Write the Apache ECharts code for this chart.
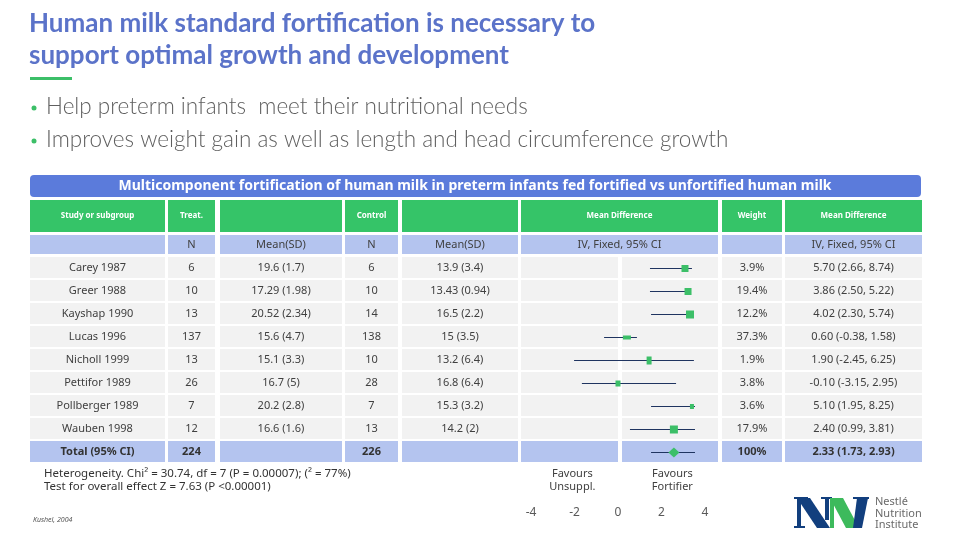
<!DOCTYPE html>
<html>
<head>
<meta charset="utf-8">
<script src="https://cdn.jsdelivr.net/npm/echarts@6/dist/echarts.min.js"></script>
<style>
html,body{margin:0;padding:0;background:#fff;}
#chart{width:960px;height:540px;}
</style>
</head>
<body>
<div id="chart"></div>
<script>
// ---------- data ----------
const titleLines = ['Human milk standard fortification is necessary to', 'support optimal growth and development'];
const bullets = ['Help preterm infants  meet their nutritional needs', 'Improves weight gain as well as length and head circumference growth'];
const tableTitle = 'Multicomponent fortification of human milk in preterm infants fed fortified vs unfortified human milk';
const headerRow = ['Study or subgroup', 'Treat.', '', 'Control', '', 'Mean Difference', 'Weight', 'Mean Difference'];
const subHeaderRow = ['', 'N', 'Mean(SD)', 'N', 'Mean(SD)', 'IV, Fixed, 95% CI', '', 'IV, Fixed, 95% CI'];
const studies = ['Carey 1987', 'Greer 1988', 'Kayshap 1990', 'Lucas 1996', 'Nicholl 1999', 'Pettifor 1989', 'Pollberger 1989', 'Wauben 1998'];
const treatN = ['6', '10', '13', '137', '13', '26', '7', '12'];
const treatMean = ['19.6 (1.7)', '17.29 (1.98)', '20.52 (2.34)', '15.6 (4.7)', '15.1 (3.3)', '16.7 (5)', '20.2 (2.8)', '16.6 (1.6)'];
const ctrlN = ['6', '10', '14', '138', '10', '28', '7', '13'];
const ctrlMean = ['13.9 (3.4)', '13.43 (0.94)', '16.5 (2.2)', '15 (3.5)', '13.2 (6.4)', '16.8 (6.4)', '15.3 (3.2)', '14.2 (2)'];
const weights = ['3.9%', '19.4%', '12.2%', '37.3%', '1.9%', '3.8%', '3.6%', '17.9%'];
const mdText = ['5.70 (2.66, 8.74)', '3.86 (2.50, 5.22)', '4.02 (2.30, 5.74)', '0.60 (-0.38, 1.58)', '1.90 (-2.45, 6.25)', '-0.10 (-3.15, 2.95)', '5.10 (1.95, 8.25)', '2.40 (0.99, 3.81)'];
const totalLabel = 'Total (95% CI)';
const totalTreatN = '224';
const totalCtrlN = '226';
const totalWeight = '100%';
const totalMd = '2.33 (1.73, 2.93)';
// forest marks as drawn in the picture (axis units)
const plotLo  = [1.47, 1.47, 1.52, -0.64, -2.02, -1.66, 1.52, 0.55, 1.52];
const plotMid = [3.08, 3.22, 3.31, 0.41, 1.43, 0.00, 3.40, 2.57, 2.57];
const plotHi  = [3.40, 3.26, 3.35, 0.87, 3.49, 2.67, 3.54, 3.54, 3.54];
const axisMin = -4, axisMax = 4, axisStep = 2;
const favours = ['Favours\nUnsuppl.', 'Favours\nFortifier'];
const favoursAt = [-2.1, 2.5];
const footLines = ['Heterogeneity. Chi² = 30.74, df = 7 (P = 0.00007); (² = 77%)', 'Test for overall effect Z = 7.63 (P <0.00001)'];
const source = 'Kushel, 2004';
const logoText = ['Nestlé', 'Nutrition', 'Institute'];

// ---------- styles / layout ----------
const C = {
  title: '#5B73C9', grey: '#5f5f5f', text: '#404040', banner: '#5B7BDB',
  green: '#35C468', lblue: '#B4C4EF', row: '#F2F2F2', line: '#1F3460', mark: '#3CBF68',
  navy: '#123F7E', lgreen: '#3DBA5C'
};
const cols = [[30,165],[168,215],[220,342],[345,398],[402,518],[521,718],[722,782],[785,922]];
const forestHalves = [[521,618],[622,718]];
const markSizes = [[7,7],[7,7],[8,8],[8,4],[5,8],[5,6],[4,5],[8,8],[11,10]];
const rowTop0 = 257, rowPitch = 23, rowH = 21;

const G = [];
function txt(t, x, y, o) {
  o = o || {};
  G.push({type:'text', z: 5, style: {
    text: t, x: x, y: y, fill: o.fill || C.text,
    font: o.font || '11px "Noto Sans"',
    align: o.align || 'center', textAlign: o.align || 'center',
    verticalAlign: 'middle', textVerticalAlign: 'middle'
  }});
}
function rect(x1, y1, x2, y2, fill, r) {
  G.push({type:'rect', z: 0, shape:{x:x1, y:y1, width:x2-x1, height:y2-y1, r: r || 0}, style:{fill: fill}});
}

// title
titleLines.forEach((t, i) => txt(t, 29, 24 + i*32, {align:'left', fill:C.title, font:'bold 26px Lato'}));
rect(30, 77, 72, 80, C.mark);
bullets.forEach((t, i) => {
  G.push({type:'circle', z:5, shape:{cx:34, cy:108 + i*33, r:2.5}, style:{fill:C.mark}});
  txt(t, 46, 107 + i*33, {align:'left', fill:C.grey, font:'300 22.5px Lato'});
});

// banner
rect(30, 175, 921, 197, C.banner, 4);
txt(tableTitle, 475, 186, {fill:'#fff', font:'bold 14px "Noto Sans"'});

// header rows
cols.forEach((c, i) => {
  rect(c[0], 200, c[1], 232, C.green);
  txt(headerRow[i], (c[0]+c[1])/2, 216, {fill:'#fff', font:'bold 8px "Noto Sans"'});
  rect(c[0], 235, c[1], 254, C.lblue);
  txt(subHeaderRow[i], (c[0]+c[1])/2, 244.5, {fill:C.text, font:'11px "Noto Sans"'});
});

// body rows
const bodyCols = [studies, treatN, treatMean, ctrlN, ctrlMean, null, weights, mdText];
studies.forEach((s, r) => {
  const y1 = rowTop0 + r*rowPitch, y2 = y1 + rowH, ym = (y1+y2)/2;
  cols.forEach((c, i) => {
    if (i === 5) {
      forestHalves.forEach(h => rect(h[0], y1, h[1], y2, C.row));
    } else {
      rect(c[0], y1, c[1], y2, C.row);
      txt(bodyCols[i][r], (c[0]+c[1])/2, ym);
    }
  });
});
// total row
{
  const y1 = rowTop0 + studies.length*rowPitch, y2 = y1 + rowH, ym = (y1+y2)/2;
  const tv = [totalLabel, totalTreatN, '', totalCtrlN, '', null, totalWeight, totalMd];
  cols.forEach((c, i) => {
    if (i === 5) {
      forestHalves.forEach(h => rect(h[0], y1, h[1], y2, C.lblue));
    } else {
      rect(c[0], y1, c[1], y2, C.lblue);
      if (tv[i]) txt(tv[i], (c[0]+c[1])/2, ym, {font:'bold 11px "Noto Sans"', fill:'#333'});
    }
  });
}

// footer
footLines.forEach((t, i) => txt(t, 44, 474 + i*13, {align:'left', fill:'#333', font:'11.5px "Noto Sans"'}));
txt(source, 33, 520, {align:'left', fill:'#555', font:'italic 7px "Noto Sans"'});

// logo
G.push({type:'polygon', z:5, shape:{points:[[797,498],[810,498],[830,528],[817,528]]}, style:{fill:C.navy}});
rect(797, 498, 801, 528, C.navy); rect(794, 526, 805, 528, C.navy); rect(794, 497, 808, 499, C.navy);
rect(825, 497, 829, 520, C.navy); rect(821, 497, 832, 499, C.navy);
G.push({type:'polygon', z:6, shape:{points:[[830,498],[843,498],[859,528],[846,528]]}, style:{fill:C.lgreen}});
rect(830, 498, 834, 528, C.lgreen);
G.push({type:'polygon', z:6, shape:{points:[[857,498],[868,498],[862,528],[853,528]]}, style:{fill:C.navy}});
rect(853, 497, 869, 499, C.navy);
logoText.forEach((t, i) => txt(t, 875, 502 + i*11.5, {align:'left', fill:'#6a6a6a', font:'11px "Noto Sans"'}));

// favours
favours.forEach((t, i) => {
  G.push({type:'text', z:5, style:{text:t, x: 618 + favoursAt[i]*21.75, y: 480, fill:'#404040', font:'11px "Noto Sans"',
    align:'center', textAlign:'center', verticalAlign:'middle', textVerticalAlign:'middle', lineHeight:13}});
});

// forest data
const rowNames = studies.concat([totalLabel]);
const forestData = rowNames.map((n, i) => [n, plotLo[i], plotMid[i], plotHi[i]]);

const chart = echarts.init(document.getElementById('chart'), null, {renderer:'canvas'});
chart.setOption({
  backgroundColor: '#fff',
  animation: false,
  graphic: G,
  grid: {left: 531, width: 174, top: rowTop0 - 0.5, height: rowPitch * rowNames.length, containLabel: false},
  xAxis: {
    type: 'value', min: axisMin, max: axisMax, interval: axisStep,
    axisLine: {show:false}, axisTick: {show:false}, splitLine: {show:false},
    axisLabel: {margin: 43, color: '#595959', fontSize: 12, fontFamily: 'Noto Sans'}
  },
  yAxis: {type: 'category', data: rowNames, inverse: true, show: false},
  series: [{
    type: 'custom',
    data: forestData,
    encode: {x: [1,2,3], y: 0},
    z: 10,
    renderItem: function (params, api) {
      const row = api.value(0);
      const pLo = api.coord([api.value(1), row]);
      const pMid = api.coord([api.value(2), row]);
      const pHi = api.coord([api.value(3), row]);
      const sz = markSizes[params.dataIndex];
      const isTotal = params.dataIndex === rowNames.length - 1;
      const ly = Math.round(pMid[1]) + 0.5;
      const children = [{
        type: 'line', shape: {x1: pLo[0], y1: ly, x2: pHi[0], y2: ly},
        style: {stroke: C.line, lineWidth: 1}
      }];
      if (isTotal) {
        children.push({type: 'polygon', shape: {points: [
          [pMid[0] - sz[0]/2, ly], [pMid[0], ly - sz[1]/2],
          [pMid[0] + sz[0]/2, ly], [pMid[0], ly + sz[1]/2]]}, style: {fill: C.mark}});
      } else {
        children.push({type: 'rect', shape: {x: pMid[0] - sz[0]/2, y: ly - sz[1]/2, width: sz[0], height: sz[1]},
          style: {fill: C.mark}});
      }
      return {type: 'group', children: children};
    }
  }]
});
</script>
</body>
</html>
